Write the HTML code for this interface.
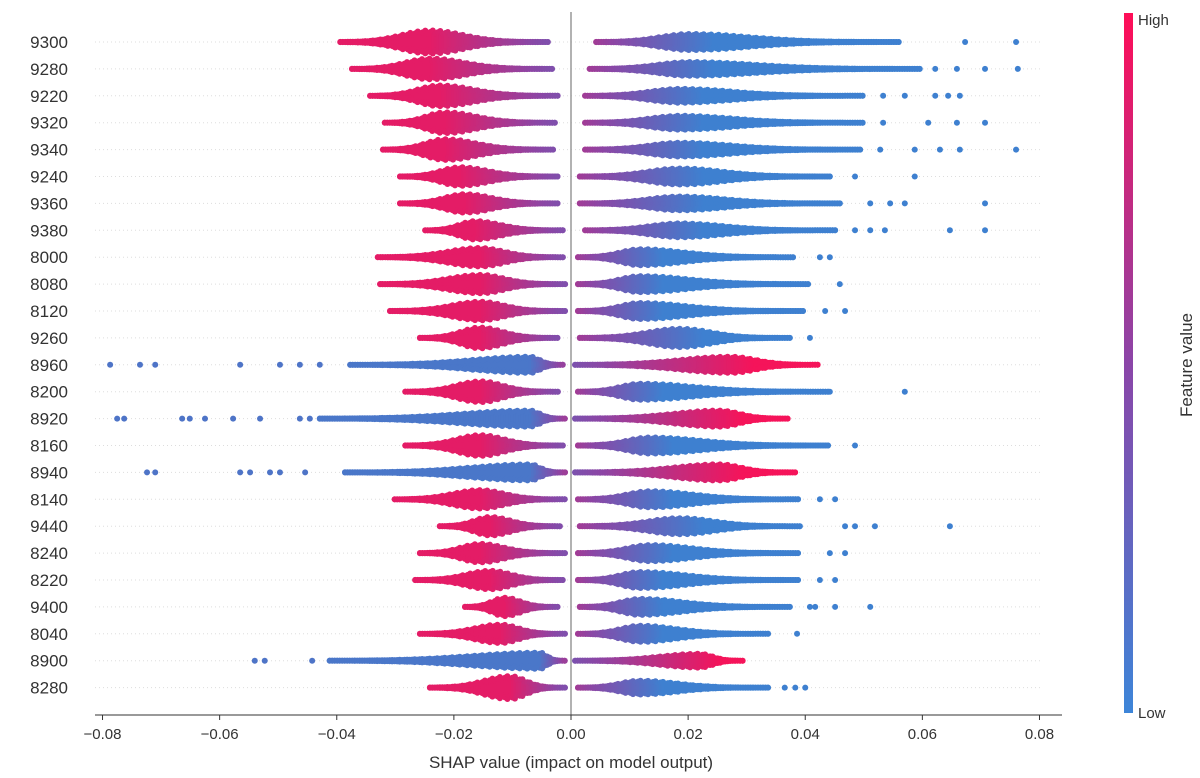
<!DOCTYPE html>
<html><head><meta charset="utf-8"><style>
html,body{margin:0;padding:0;background:#fff;}
svg{display:block;font-family:"Liberation Sans","DejaVu Sans",sans-serif;}
</style></head><body>
<svg id="chart" width="1200" height="778" viewBox="0 0 1200 778">
<defs>
<linearGradient id="cbar" x1="0" y1="0" x2="0" y2="1">
<stop offset="0" stop-color="#ff0d57"/><stop offset="0.5" stop-color="#8b45a8"/><stop offset="1" stop-color="#3d85d8"/>
</linearGradient>
</defs>
<g id="grid"></g>
<g id="marks"></g>
<line x1="571" y1="12" x2="571" y2="715" stroke="#999" stroke-width="1.5"/>
<g id="ylabels"></g>
<g id="xaxis"></g>
<text x="571" y="768" text-anchor="middle" font-size="17" fill="#333">SHAP value (impact on model output)</text>
<rect x="1124" y="13" width="9" height="700" fill="url(#cbar)"/>
<text x="1138" y="25" font-size="15" fill="#333">High</text>
<text x="1138" y="718" font-size="15" fill="#333">Low</text>
<text transform="translate(1192,365) rotate(-90)" text-anchor="middle" font-size="17" fill="#333">Feature value</text>
</svg>
<script>
const features=["9300","9280","9220","9320","9340","9240","9360","9380","8000","8080","8120","9260","8960","8200","8920","8160","8940","8140","9440","8240","8220","9400","8040","8900","8280"];
const inverted=[0,0,0,0,0,0,0,0,0,0,0,0,1,0,1,0,1,0,0,0,0,0,0,1,0];
const negMin=[-0.0394,-0.0374,-0.0343,-0.0318,-0.0321,-0.0292,-0.0292,-0.0249,-0.033,-0.0326,-0.0309,-0.0258,-0.0377,-0.0283,-0.0429,-0.0283,-0.0386,-0.0301,-0.0224,-0.0258,-0.0266,-0.0181,-0.0258,-0.0412,-0.0241];
const negMax=[-0.0039,-0.0032,-0.0019,-0.0027,-0.0027,-0.0019,-0.0019,-0.001,-0.001,-0.001,-0.001,-0.0019,-0.001,-0.0019,-0.001,-0.001,-0.001,-0.001,-0.0015,-0.001,-0.001,-0.0019,-0.001,-0.001,-0.001];
const negPeak=[-0.0241,-0.0241,-0.0224,-0.0215,-0.0215,-0.019,-0.0181,-0.0164,-0.0155,-0.0155,-0.0155,-0.0155,-0.007,-0.0155,-0.007,-0.0155,-0.007,-0.0155,-0.0138,-0.0155,-0.0138,-0.0113,-0.0121,-0.0053,-0.0104];
const negAmp=[10,9,9,9,9,8,8,8,8,8,8,9,7,9,7,9,7,8,8,8,8,8,8,7,10];
const posMin=[0.0043,0.0032,0.0024,0.0024,0.0024,0.0015,0.0015,0.0024,0.0012,0.0012,0.0012,0.0015,0.0007,0.0012,0.0007,0.0012,0.0007,0.0012,0.0015,0.0012,0.0012,0.0015,0.0012,0.0007,0.0012];
const posMax=[0.0562,0.0596,0.0502,0.0502,0.0494,0.0442,0.0459,0.0451,0.0383,0.0408,0.04,0.0374,0.0425,0.0442,0.0374,0.0442,0.0383,0.0391,0.0391,0.0391,0.0391,0.0374,0.034,0.0297,0.034];
const posPeak=[0.0203,0.0203,0.0186,0.0186,0.0186,0.0186,0.0186,0.0186,0.0118,0.0118,0.0118,0.0186,0.0272,0.0118,0.0254,0.0135,0.0254,0.0135,0.0186,0.0135,0.0118,0.0118,0.0118,0.022,0.0118];
const posAmp=[7,6,6,6,6,7,6,6,7,7,7,8,7,7,7,7,7,7,7,7,7,7,7,6,6];
const outliers=[[0.0673,0.076],[0.0622,0.0659,0.0707,0.0763],[0.0533,0.057,0.0622,0.0644,0.0664],[0.0533,0.061,0.0659,0.0707],[0.0528,0.0587,0.063,0.0664,0.076],[0.0485,0.0587],[0.0511,0.0545,0.057,0.0707],[0.0485,0.0511,0.0536,0.0647,0.0707],[0.0425,0.0442],[0.0459],[0.0434,0.0468],[0.0408],[-0.0787,-0.0736,-0.071,-0.0565,-0.0497,-0.0463,-0.0429],[0.0442,0.057],[-0.0775,-0.0763,-0.0664,-0.0651,-0.0625,-0.0577,-0.0531,-0.0463,-0.0446],[0.0485],[-0.0724,-0.071,-0.0565,-0.0548,-0.0514,-0.0497,-0.0454],[0.0425,0.0451],[0.0468,0.0485,0.0519,0.0647],[0.0442,0.0468],[0.0425,0.0451],[0.0408,0.0417,0.0451,0.0511],[0.0386],[-0.054,-0.0523,-0.0442],[0.0365,0.0383,0.04]];
const xTicks=[-0.08,-0.06,-0.04,-0.02,0,0.02,0.04,0.06,0.08];
const xTickLabels=["\u22120.08","\u22120.06","\u22120.04","\u22120.02","0.00","0.02","0.04","0.06","0.08"];

const NS="http://www.w3.org/2000/svg";
const X=v=>571+v*5856;
const Y=i=>42+i*26.9;
const RED=[245,20,90],PUR=[140,70,165],BLUE=[62,128,208];
function mix(a,b,t){return a.map((c,k)=>Math.round(c+(b[k]-c)*t));}
function col(t){
  t=Math.max(0,Math.min(1,t));
  const c=t<0.5?mix(RED,PUR,t*2):mix(PUR,BLUE,(t-0.5)*2);
  return `rgb(${c[0]},${c[1]},${c[2]})`;
}
function colorAt(i,v){
  let t;
  if(v<0){t=0.08+0.5*Math.max(0,(v-negPeak[i])/(negMax[i]-negPeak[i]));}
  else{t=0.4+0.6*Math.min(1,(v-posMin[i])/(posPeak[i]-posMin[i]+0.004));}
  if(v<negMin[i]-0.001) t=inverted[i]?0.1:0.95;
  return inverted[i]?col(1-t):col(t);
}
const grid=document.getElementById('grid'),marks=document.getElementById('marks'),yl=document.getElementById('ylabels');
features.forEach((f,i)=>{
  const y=Y(i);
  const g=document.createElementNS(NS,'line');
  g.setAttribute('x1',95);g.setAttribute('x2',1040);g.setAttribute('y1',y);g.setAttribute('y2',y);
  g.setAttribute('stroke','#ddd');g.setAttribute('stroke-dasharray','1,3');
  
  
  grid.appendChild(g);
  const t=document.createElementNS(NS,'text');
  t.setAttribute('x',68);t.setAttribute('y',y+6);t.setAttribute('text-anchor','end');
  t.setAttribute('font-size','17');t.setAttribute('fill','#333');t.textContent=f;
  
  
  yl.appendChild(t);
  const row=document.createElementNS(NS,'g');
  
  
  marks.appendChild(row);
  const sides=[[negMin[i],negMax[i],negPeak[i],negAmp[i]],[posMin[i],posMax[i],posPeak[i],posAmp[i]]];
  sides.forEach(([a,b,p,amp])=>{
    const x0=X(a),x1=X(b),xp=X(p);
    const wL=(xp-x0)*0.45,wR=(x1-xp)*0.4;
    let idx=0;
    for(let x=x0;x<=x1;x+=2.5){
      idx++;
      const w=x<xp?wL:wR;
      let h=amp*Math.exp(-Math.pow((x-xp)/w,2));
      h=h*(1+0.15*((idx*7)%3-1));
      const v=(x-571)/5856;
      const c=colorAt(i,v);
      if(h>0.5){
        const r=document.createElementNS(NS,'rect');
        r.setAttribute('x',(x-1.5).toFixed(1));r.setAttribute('y',(y-h).toFixed(1));
        r.setAttribute('width',3);r.setAttribute('height',(2*h).toFixed(1));r.setAttribute('fill',c);
        
        
        row.appendChild(r);
      }
      [-h,h].forEach(o=>{
        const dot=document.createElementNS(NS,'circle');
        dot.setAttribute('cx',x.toFixed(1));dot.setAttribute('cy',(y+o).toFixed(1));dot.setAttribute('r',3);
        dot.setAttribute('fill',c);
        
        
        row.appendChild(dot);
      });
    }
  });
  outliers[i].forEach(v=>{
    const dot=document.createElementNS(NS,'circle');
    dot.setAttribute('cx',X(v));dot.setAttribute('cy',y);dot.setAttribute('r',3);
    dot.setAttribute('fill',colorAt(i,v));
    
    
    row.appendChild(dot);
  });
});
const xa=document.getElementById('xaxis');
const ax=document.createElementNS(NS,'line');
ax.setAttribute('x1',95);ax.setAttribute('x2',1062);ax.setAttribute('y1',715);ax.setAttribute('y2',715);ax.setAttribute('stroke','#333');


xa.appendChild(ax);
xTicks.forEach((v,k)=>{
  const tk=document.createElementNS(NS,'line');
  tk.setAttribute('x1',X(v));tk.setAttribute('x2',X(v));tk.setAttribute('y1',715);tk.setAttribute('y2',720);tk.setAttribute('stroke','#333');
  
  
  xa.appendChild(tk);
  const t=document.createElementNS(NS,'text');
  t.setAttribute('x',X(v));t.setAttribute('y',739);t.setAttribute('text-anchor','middle');t.setAttribute('font-size','15');t.setAttribute('fill','#333');
  t.textContent=xTickLabels[k];
  
  
  xa.appendChild(t);
});
</script>
</body></html>
